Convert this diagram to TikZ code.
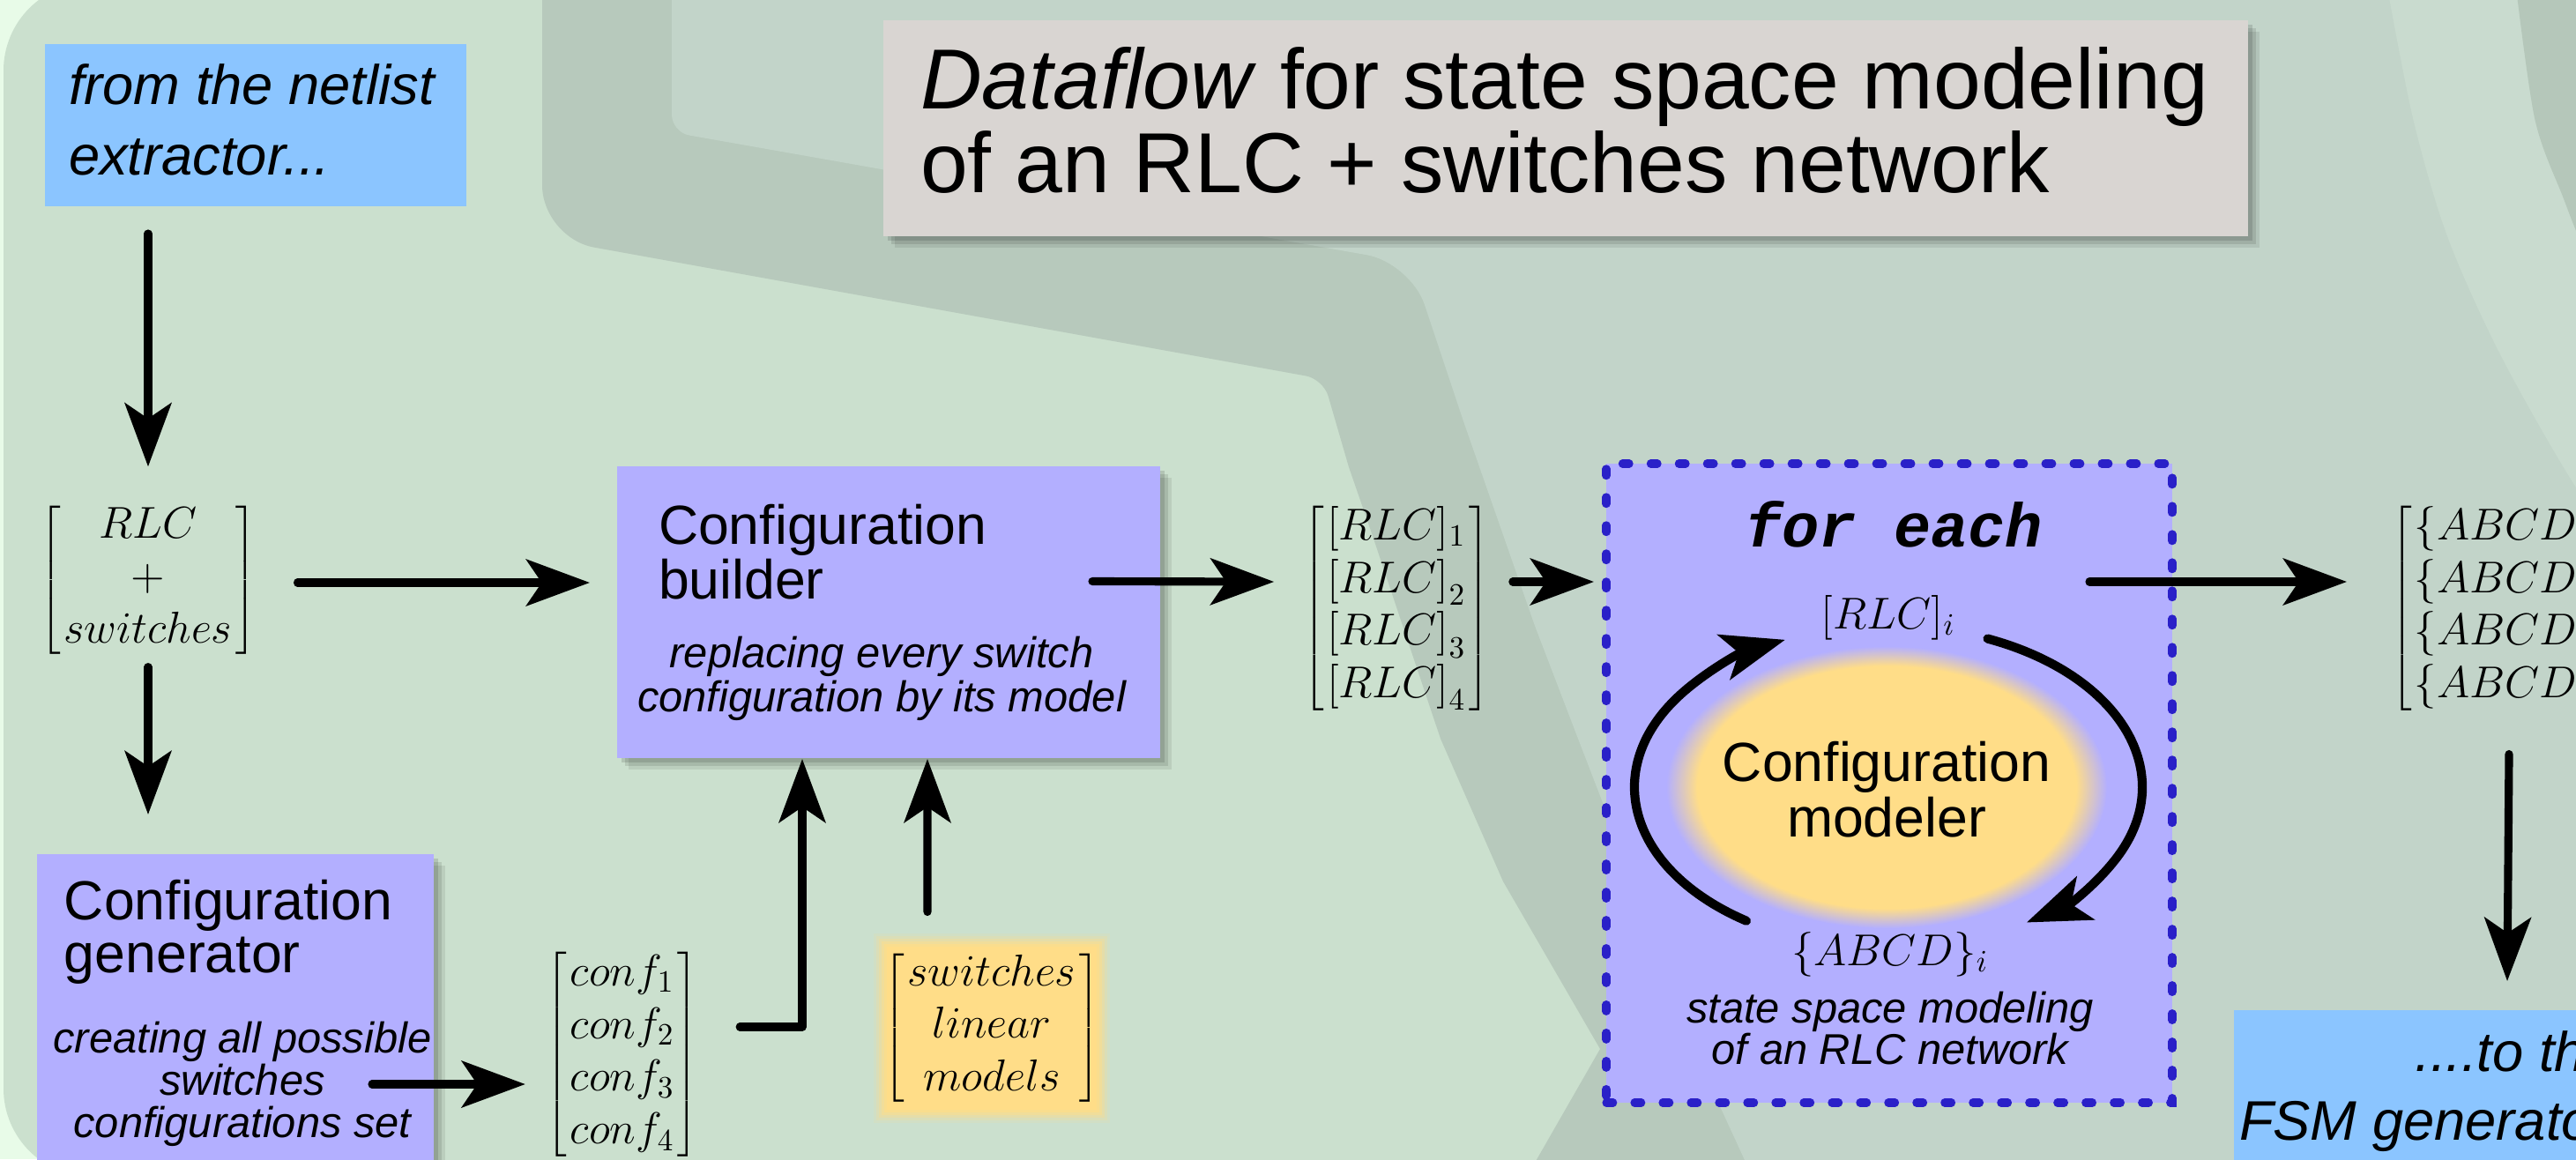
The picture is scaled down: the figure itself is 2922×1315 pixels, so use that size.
\documentclass[tikz,border=0pt]{standalone}
\usepackage[no-math]{fontspec}
\setmainfont{Liberation Sans}
\newfontfamily\monofam{Liberation Mono}
\usetikzlibrary{arrows.meta,calc,shadows,shapes.geometric}
\definecolor{pagebg}{HTML}{E8FBE8}
\definecolor{greenA}{HTML}{CBE0CE}
\definecolor{band}{HTML}{B7C9BC}
\definecolor{inside}{HTML}{C2D4C9}
\definecolor{arcl}{HTML}{C9DBCF}
\definecolor{arcd}{HTML}{B5C7BA}
\definecolor{lav}{HTML}{B3AFFF}
\definecolor{skyb}{HTML}{8BC5FF}
\definecolor{titleg}{HTML}{D9D5D2}
\definecolor{yel}{HTML}{FFDD88}
\definecolor{dashb}{HTML}{2A20C8}
\pgfdeclareradialshading{ellglow}{\pgfpoint{0bp}{0bp}}{color(0bp)=(yel); color(21.5bp)=(yel); color(25bp)=(lav); color(50bp)=(lav)}
\tikzset{
  arr/.style={line width=2.6pt, line cap=round, line join=round, -{Stealth[length=20.5pt,width=15pt,inset=5pt]}},
  box/.style={rectangle, inner sep=0pt, outer sep=0pt},
  shadowed/.style={drop shadow={shadow xshift=0.5mm,shadow yshift=-0.5mm,opacity=0.12,fill=black},
                   drop shadow={shadow xshift=0.9mm,shadow yshift=-0.9mm,opacity=0.1,fill=black},
                   drop shadow={shadow xshift=1.3mm,shadow yshift=-1.3mm,opacity=0.08,fill=black}},
  txt/.style={inner sep=0pt, outer sep=0pt, text=black},
  bigtxt/.style={txt, font=\fontsize{17.8}{18}\selectfont},
  bigit/.style={txt, font=\fontsize{18}{18}\selectfont\itshape},
  descit/.style={txt, font=\fontsize{13.9}{14}\selectfont\itshape},
  titletxt/.style={txt, font=\fontsize{27.5}{28}\selectfont},
  mathnode/.style={txt, font=\fontsize{14.2}{17}\selectfont\setlength{\arraycolsep}{1pt}},
  dashbox/.style={box, fill=lav, draw=dashb, line width=2.6pt, line cap=round, dash pattern=on 2.2pt off 6.9pt},
}
\begin{document}
\begin{tikzpicture}[x=0.1mm,y=-0.1mm]
\useasboundingbox (0,0) rectangle (2922,1315);
\clip (0,0) rectangle (2922,1315);
% ---------- background ----------
\fill[pagebg] (0,0) rectangle (2922,1315);
\fill[greenA, rounded corners=10mm] (4,-20) rectangle (3100,1335);
\fill[band] (615,-50) [rounded corners=6mm] -- (615,270) [rounded corners=2mm] -- (1501,430) [sharp corners] -- (1530,530) -- (1557,608) -- (1634,838) -- (1705,1000) -- (1815,1190) -- (1729,1340) -- (3100,1340) -- (3100,-50) -- cycle;
\fill[inside] (762,-50) [rounded corners=2mm] -- (762,150) [rounded corners=5mm] -- (1600,298) [sharp corners] -- (1659,475) -- (1741,710) -- (1790,838) -- (1950,1253) -- (1990,1340) -- (3100,1340) -- (3100,-50) -- cycle;
\fill[arcl] plot[smooth] coordinates {(2705,-30) (2737,134) (2776,268) (2836,402) (2922,553) (2990,640)} -- (2990,-30) -- cycle;
\fill[arcd] plot[smooth] coordinates {(2852,-30) (2875,134) (2907,223) (2935,290) (2990,380)} -- (2990,-30) -- cycle;
% ---------- netlist box ----------
\node[box, fill=skyb, anchor=north west, minimum width=47.8mm, minimum height=18.4mm] (netlist) at (51,50) {};
\node[bigit, anchor=base west] (netlist1) at (78,118) {from the netlist};
\node[bigit, anchor=base west] (netlist2) at (78,198) {extractor...};
% ---------- title ----------
\node[box, fill=titleg, shadowed, anchor=north west, minimum width=154.8mm, minimum height=24.5mm] (title) at (1002,23) {};
\node[titletxt, anchor=base west] (title1) at (1044,123) {\textit{Dataflow} for state space modeling};
\node[titletxt, anchor=base west] (title2) at (1044,218) {of an RLC + switches network};
% ---------- RLC + switches ----------
\node[mathnode] (mat1) at (168,658) {$\left[\begin{array}{c} RLC\\ +\\ switches \end{array}\right]$};
% ---------- builder ----------
\node[box, fill=lav, shadowed, anchor=north west, minimum width=61.6mm, minimum height=33.1mm] (builder) at (700,529) {};
\node[bigtxt, anchor=base west] (builder1) at (747,617) {Configuration};
\node[bigtxt, anchor=base west] (builder2) at (747,679) {builder};
\node[descit, anchor=base] (builder3) at (1000,757) {replacing every switch};
\node[descit, anchor=base] (builder4) at (1000,807) {configuration by its model};
% ---------- generator ----------
\node[box, fill=lav, shadowed, anchor=north west, minimum width=45mm, minimum height=37.1mm] (generator) at (42,969) {};
\node[bigtxt, anchor=base west] (gen1) at (73,1043) {Configuration};
\node[bigtxt, anchor=base west] (gen2) at (73,1103) {generator};
\node[descit, anchor=base] (gen3) at (275,1194) {creating all possible};
\node[descit, anchor=base] (gen4) at (275,1242) {switches};
\node[descit, anchor=base] (gen5) at (275,1290) {configurations set};
% ---------- conf ----------
\node[mathnode] (conf) at (706,1196) {$\left[\begin{array}{c} conf_1\\ conf_2\\ conf_3\\ conf_4 \end{array}\right]$};
% ---------- switches linear models ----------
\node[mathnode, minimum width=26.8mm, minimum height=21.5mm,
  path picture={\foreach \i/\o in {0/0.12,3/0.2,6/0.3,9/0.45,12/0.65,15/1}{\fill[yel,opacity=\o] ($(path picture bounding box.south west)+(\i,-\i)$) rectangle ($(path picture bounding box.north east)+(-\i,\i)$);}}]
  (swlin) at (1125,1166) {$\left[\begin{array}{c} switches\\ linear\\ models \end{array}\right]$};
% ---------- RLC list ----------
\node[mathnode] (rlclist) at (1584,690) {$\left[\begin{array}{c} [RLC]_1\\ {[RLC]}_2\\ {[RLC]}_3\\ {[RLC]}_4 \end{array}\right]$};
% ---------- for each ----------
\node[dashbox, anchor=north west, minimum width=64.2mm, minimum height=72.5mm] (foreach) at (1822,526) {};
\node[txt, font=\monofam\bfseries\itshape\fontsize{20}{22}\selectfont, anchor=base] (foreachlbl) at (2148,620) {for each};
\node[mathnode, anchor=base] (rlci) at (2142,713) {$[RLC]_i$};
\shade[shading=ellglow] (2140,893) ellipse [x radius=250, y radius=160];
\node[txt, align=center, font=\fontsize{17.8}{17.9}\selectfont] (modeler) at (2140,896) {Configuration\\modeler};
\coordinate (ellc) at (2142,893);
\draw[arr, line width=2.9pt] (ellc) ++(124:288 and 183) arc[start angle=124, end angle=246, x radius=288, y radius=183];
\draw[arr, line width=2.9pt] (ellc) ++(-67:288 and 183) arc[start angle=-67, end angle=57, x radius=288, y radius=183];
\node[mathnode, anchor=base] (abcdi) at (2144,1095) {$\{ABCD\}_i$};
\node[descit, anchor=base] (fe1) at (2144,1160) {state space modeling};
\node[descit, anchor=base] (fe2) at (2144,1207) {of an RLC network};
% ---------- ABCD list ----------
\node[mathnode, anchor=west] (abcd) at (2712,690) {$\left[\begin{array}{c} \{ABCD\}_1\\ \{ABCD\}_2\\ \{ABCD\}_3\\ \{ABCD\}_4 \end{array}\right]$};
% ---------- FSM ----------
\node[box, fill=skyb, anchor=north west, minimum width=46mm, minimum height=19.4mm] (fsm) at (2534,1146) {};
\node[bigit, anchor=base east] (fsm1) at (2968,1215) {....to the};
\node[bigit, anchor=base east] (fsm2) at (2962,1293) {FSM generator};
% ---------- arrows ----------
\draw[arr] ($(netlist.south -| mat1.north)+(0,31)$) -- ($(mat1.north)+(0,-39)$);
\draw[arr] ($(mat1.south)+(0,9)$) -- ($(mat1.south |- generator.north)+(0,-45)$);
\draw[arr] ($(mat1.east)+(47,3)$) -- ($(builder.west |- mat1.east)+(-31,3)$);
\draw[arr] ($(generator.east |- conf.west)+(-70,34)$) -- ($(conf.west)+(-24,34)$);
\draw[arr] ($(conf.east)+(47,-31)$) -| ($(builder.south)+(-98,1)$);
\draw[arr] ($(swlin.north)+(-73,-24)$) -- ($(builder.south)+(44,1)$);
\draw[arr] ($(builder.east)+(-77,-35)$) -- ($(rlclist.west)+(-33,-30)$);
\draw[arr] ($(rlclist.east)+(26,-30)$) -- ($(foreach.west |- rlclist.east)+(-14,-30)$);
\draw[arr] ($(foreach.east |- rlclist.east)+(-94,-30)$) -- ($(abcd.west)+(-50,-30)$);
\draw[arr] ($(abcd.south west)+(134,46)$) -- ($(fsm.north west)+(310,-33)$);
\end{tikzpicture}
\end{document}
